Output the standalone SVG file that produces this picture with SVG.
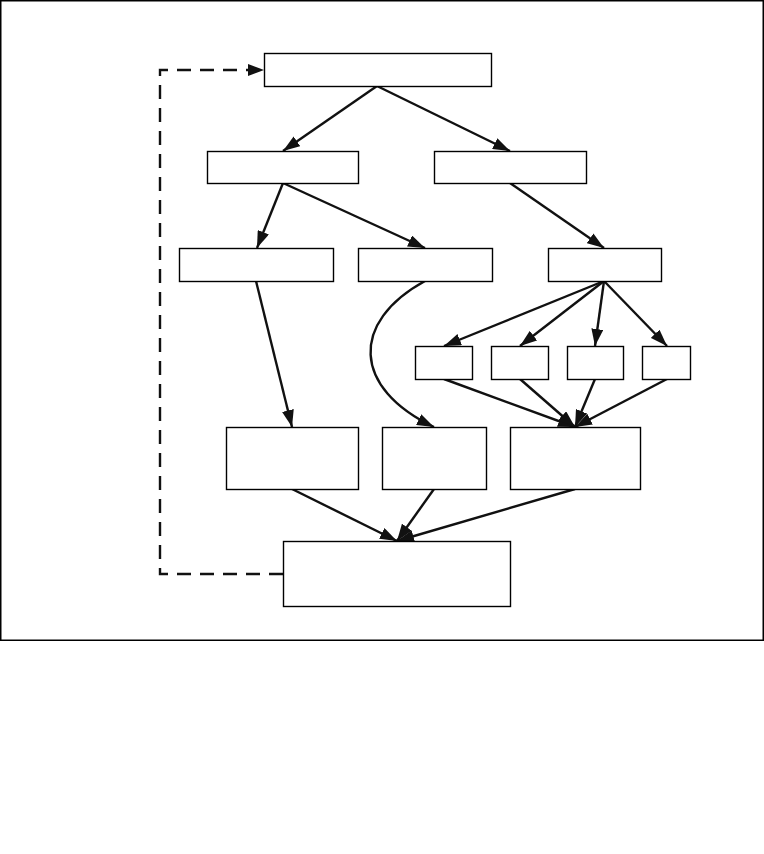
<svg xmlns="http://www.w3.org/2000/svg" width="764" height="854" viewBox="0 0 764 854">
<style>
.box{fill:#fff;stroke:#000;stroke-width:1.4}
.c{fill:none;stroke:#111;stroke-width:2.4}
.d{fill:none;stroke:#111;stroke-width:2.4;stroke-dasharray:14 9}
</style>
<defs>
<marker id="ah" markerUnits="userSpaceOnUse" markerWidth="18" markerHeight="12" refX="17" refY="6" orient="auto"><path d="M0,0 L17,6 L0,12 z" fill="#111"/></marker>
</defs>
<rect x="0" y="0" width="764" height="854" fill="#fff"/>
<rect x="0.75" y="0.75" width="762.5" height="639.5" fill="none" stroke="#000" stroke-width="1.5"/>
<g id="connectors">
<path class="c" marker-end="url(#ah)" d="M377,86 L283,151"/>
<path class="c" marker-end="url(#ah)" d="M377,86 L510,151"/>
<path class="c" marker-end="url(#ah)" d="M283,183 L257,248"/>
<path class="c" marker-end="url(#ah)" d="M283,183 L425,248"/>
<path class="c" marker-end="url(#ah)" d="M510,183 L604,248"/>
<path class="c" marker-end="url(#ah)" d="M256,281 L292,427"/>
<path class="c" marker-end="url(#ah)" d="M425,281 C350,322 352,388 434,427"/>
<path class="c" marker-end="url(#ah)" d="M604,281 L444,346"/>
<path class="c" marker-end="url(#ah)" d="M604,281 L520,346"/>
<path class="c" marker-end="url(#ah)" d="M604,281 L595,346"/>
<path class="c" marker-end="url(#ah)" d="M604,281 L667,346"/>
<path class="c" marker-end="url(#ah)" d="M444,379 L575,427"/>
<path class="c" marker-end="url(#ah)" d="M520,379 L575,427"/>
<path class="c" marker-end="url(#ah)" d="M595,379 L575,427"/>
<path class="c" marker-end="url(#ah)" d="M667,379 L575,427"/>
<path class="c" marker-end="url(#ah)" d="M292,489 L397,541"/>
<path class="c" marker-end="url(#ah)" d="M434,489 L397,541"/>
<path class="c" marker-end="url(#ah)" d="M575,489 L397,541"/>
<path class="d" d="M283,574 L160,574 L160,70 L250,70"/>
<path d="M248,64 L264,70 L248,76 z" fill="#111"/>
</g>
<g id="n1"><rect class="box" x="264.5" y="53.5" width="227" height="33"/></g>
<g id="n2"><rect class="box" x="207.5" y="151.5" width="151" height="32"/></g>
<g id="n3"><rect class="box" x="434.5" y="151.5" width="152" height="32"/></g>
<g id="n4"><rect class="box" x="179.5" y="248.5" width="154" height="33"/></g>
<g id="n5"><rect class="box" x="358.5" y="248.5" width="134" height="33"/></g>
<g id="n6"><rect class="box" x="548.5" y="248.5" width="113" height="33"/></g>
<g id="n7"><rect class="box" x="415.5" y="346.5" width="57" height="33"/></g>
<g id="n8"><rect class="box" x="491.5" y="346.5" width="57" height="33"/></g>
<g id="n9"><rect class="box" x="567.5" y="346.5" width="56" height="33"/></g>
<g id="n10"><rect class="box" x="642.5" y="346.5" width="48" height="33"/></g>
<g id="n11"><rect class="box" x="226.5" y="427.5" width="132" height="62"/></g>
<g id="n12"><rect class="box" x="382.5" y="427.5" width="104" height="62"/></g>
<g id="n13"><rect class="box" x="510.5" y="427.5" width="130" height="62"/></g>
<g id="n14"><rect class="box" x="283.5" y="541.5" width="227" height="65"/></g>
</svg>
